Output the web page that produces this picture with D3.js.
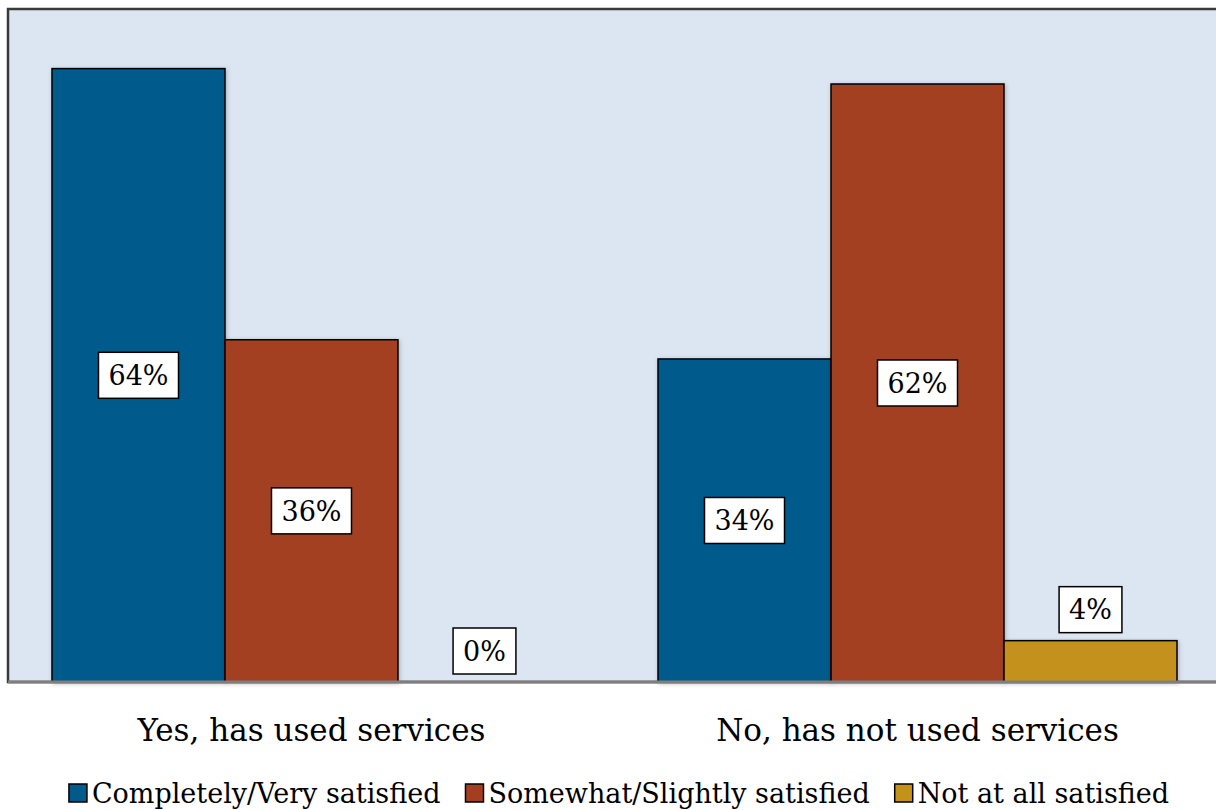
<!DOCTYPE html>
<meta charset="utf-8">
<head>
    <script src="https://d3js.org/d3.v7.min.js"></script>
    <style>
    body { margin: 0; background: #fff; }
    text { font-family: "DejaVu Serif", "Liberation Serif", serif; fill: #000; }
    .bar { stroke: #000; stroke-width: 1.5; }
    .lbl rect { fill: #fff; stroke: #000; stroke-width: 1.5; }
    </style>
</head>
<body>
<script>

// data
var categories = ["Yes, has used services", "No, has not used services"];
var series = ["Completely/Very satisfied", "Somewhat/Slightly satisfied", "Not at all satisfied"];
var colors = ["#005A8C", "#A33F20", "#C4911A"];
var completely = [63.8, 33.6];
var somewhat = [35.6, 62.2];
var notAtAll = [0, 4.3];
var values = [completely, somewhat, notAtAll];

var W = 1216, H = 810;
var plot = {left: 8, top: 9, right: 1216, bottom: 682};

var svg = d3.select("body").append("svg")
    .attr("width", W)
    .attr("height", H);

var defs = svg.append("defs");
var f = defs.append("filter").attr("id", "shadow")
    .attr("x", "-5%").attr("y", "-5%").attr("width", "115%").attr("height", "115%");
f.append("feDropShadow").attr("dx", 1).attr("dy", 1).attr("stdDeviation", 2)
    .attr("flood-color", "#000").attr("flood-opacity", 0.25);

// plot background
svg.append("rect")
    .attr("x", plot.left).attr("y", plot.top)
    .attr("width", plot.right - plot.left + 4)
    .attr("height", plot.bottom - plot.top)
    .attr("fill", "#DCE6F2")
    .attr("stroke", "#3a3a3a")
    .attr("stroke-width", 2.5);

// scales
var x0 = d3.scaleBand()
    .domain(categories)
    .range([plot.left, 1221])
    .paddingInner(0.1436)
    .paddingOuter(0.0726);

var x1 = d3.scaleBand()
    .domain(series)
    .range([0, x0.bandwidth()]);

var y = d3.scaleLinear()
    .domain([0, 70])
    .range([plot.bottom, plot.top]);

var rows = [];
categories.forEach(function(c, i) {
    series.forEach(function(s, j) {
        rows.push({cat: c, ser: s, j: j, v: values[j][i]});
    });
});

// bars
svg.append("g").selectAll("rect")
    .data(rows.filter(function(d) { return d.v > 0; }))
    .enter().append("rect")
    .attr("class", "bar")
    .attr("filter", "url(#shadow)")
    .attr("x", function(d) { return x0(d.cat) + x1(d.ser); })
    .attr("y", function(d) { return y(d.v); })
    .attr("width", x1.bandwidth())
    .attr("height", function(d) { return y(0) - y(d.v); })
    .attr("fill", function(d) { return colors[d.j]; });

// bottom axis line
svg.append("line")
    .attr("x1", plot.left).attr("x2", W)
    .attr("y1", plot.bottom).attr("y2", plot.bottom)
    .attr("stroke", "#7f7f7f")
    .attr("stroke-width", 3);

// data labels
var fmt = function(v) { return Math.round(v) + "%"; };
var boxH = 46;
var lbl = svg.append("g").selectAll("g")
    .data(rows)
    .enter().append("g")
    .attr("class", "lbl");

lbl.each(function(d) {
    var g = d3.select(this);
    var cx = x0(d.cat) + x1(d.ser) + x1.bandwidth() / 2;
    var cy;
    if (d.v < 6) cy = y(d.v) - 8 - boxH / 2;
    else cy = (y(d.v) + y(0)) / 2;
    var t = g.append("text")
        .attr("x", cx).attr("y", cy)
        .attr("dy", "0.36em")
        .attr("text-anchor", "middle")
        .style("font-size", "27px")
        .text(fmt(d.v));
    var w = t.node().getComputedTextLength() + 20;
    g.insert("rect", "text")
        .attr("x", cx - w / 2).attr("y", cy - boxH / 2)
        .attr("width", w).attr("height", boxH);
});

// category labels
svg.append("g").selectAll("text")
    .data(categories)
    .enter().append("text")
    .attr("x", function(d) { return x0(d) + x0.bandwidth() / 2; })
    .attr("y", 741)
    .attr("text-anchor", "middle")
    .style("font-size", "31px")
    .text(function(d) { return d; });

// legend
var legend = svg.append("g");
var lx = 0;
series.forEach(function(s, j) {
    var it = legend.append("g").attr("transform", "translate(" + lx + ",0)");
    it.append("rect")
        .attr("x", 0).attr("y", -19)
        .attr("width", 18).attr("height", 18)
        .attr("fill", colors[j])
        .attr("stroke", "#000").attr("stroke-width", 1.5);
    var t = it.append("text")
        .attr("x", 23).attr("y", 0)
        .style("font-size", "27px")
        .text(s);
    lx += 23 + t.node().getComputedTextLength() + 25;
});
var lw = lx - 25;
legend.attr("transform", "translate(" + (619 - lw / 2) + ",803)");

</script>
</body>
